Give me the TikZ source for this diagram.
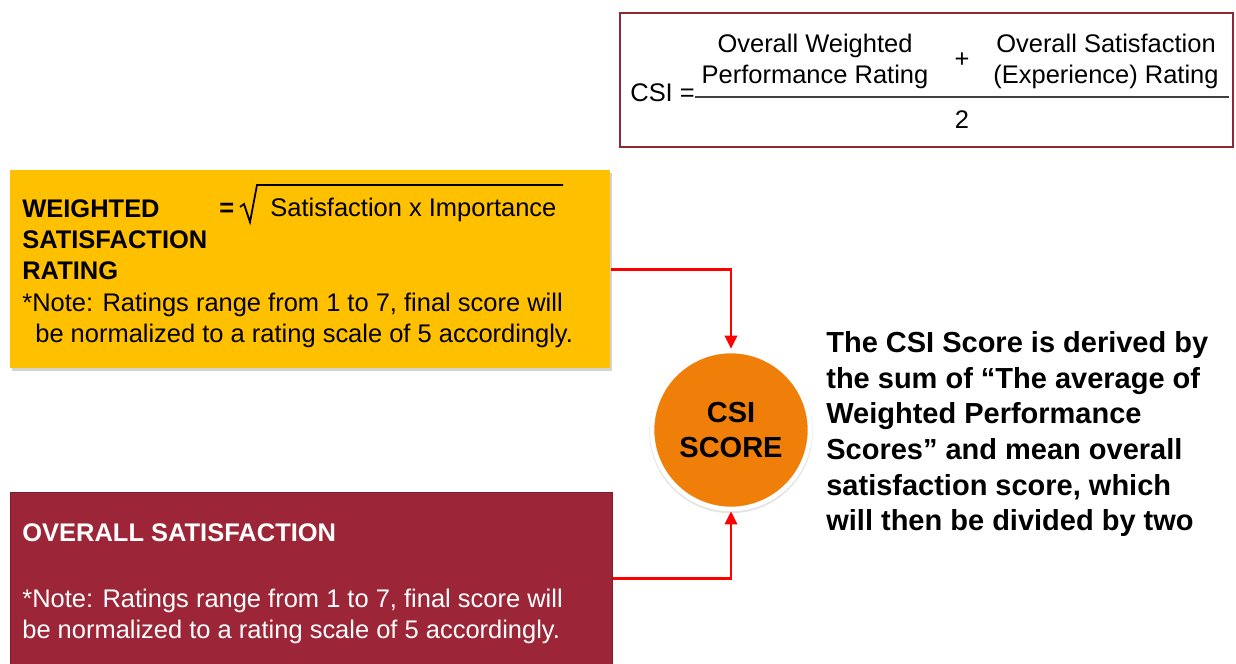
\documentclass[tikz,border=0pt]{standalone}
\usepackage{fontspec}
\setmainfont{Liberation Sans}
\usetikzlibrary{positioning, arrows.meta, shadows}

\definecolor{wsryellow}{HTML}{FFC000}
\definecolor{osred}{HTML}{9C2637}
\definecolor{osedge}{HTML}{7D1D2B}
\definecolor{csiorange}{HTML}{F07F0A}
\definecolor{framered}{HTML}{8A2A35}

\begin{document}
\begin{tikzpicture}[
    x=0.02cm, y=-0.02cm,
    panel/.style={anchor=north west, inner sep=0pt},
    boxtext/.style={inner sep=0pt, align=left, font=\fontsize{14.5}{17.6}\selectfont},
    boxbold/.style={boxtext, font=\bfseries\fontsize{14.5}{17.6}\selectfont},
    bigtext/.style={inner sep=0pt, align=left, font=\bfseries\fontsize{16.5}{20.3}\selectfont},
    link/.style={draw=red, line width=1.6pt, -{Triangle[length=7.5pt, width=7pt]}}
  ]
    \useasboundingbox (0,0) rectangle (1236,663);

    % CSI formula
    \node[panel, draw=framered, line width=1.2pt, minimum width=12.26cm, minimum height=2.68cm] (formula) at (619,12) {};
    \node[boxtext, anchor=base west] (csieq) at (630,101) {CSI =};
    \node[boxtext, align=center, anchor=north] (wpr) at (815,34) {Overall Weighted\\Performance Rating};
    \node[boxtext, align=center, anchor=north] (osr) at (1106,34) {Overall Satisfaction\\(Experience) Rating};
    \node[boxtext] (plus) at (962,60) {+};
    \node[boxtext] (two) at (962,120) {2};
    \draw[line width=0.7pt, black!75] (csieq.base east |- 0,97) -- (1229,97);

    % weighted satisfaction rating
    \node[panel, fill=wsryellow, minimum width=12cm, minimum height=3.96cm,
          drop shadow={shadow xshift=1pt, shadow yshift=-1.5pt, opacity=0.35}] (wsr) at (10,170) {};
    \node[boxbold, anchor=north west] (wsrtitle) at (22,199.5) {WEIGHTED\\SATISFACTION\\RATING};
    \node[boxbold, anchor=base west] (eq) at (219,216) {=};
    \node[boxtext, anchor=base west] (radicand) at (270,216) {Satisfaction x Importance};
    \draw[line width=1pt] (240,207) -- (244,204) -- (250,222) -- (257,185) -- (563,185);
    \node[boxtext, anchor=north west] (wsrnote) at (22,293)
        {*Note: Ratings range from 1 to 7, final score will\\\hspace*{0.26cm}be normalized to a rating scale of 5 accordingly.};

    % overall satisfaction
    \node[panel, fill=osred, draw=osedge, line width=0.8pt, minimum width=12.04cm, minimum height=3.44cm] (os) at (10,492) {};
    \node[boxbold, anchor=north west, text=white] (ostitle) at (22,523.5) {OVERALL SATISFACTION};
    \node[boxtext, anchor=north west, text=white] (osnote) at (22,588.5)
        {*Note: Ratings range from 1 to 7, final score will\\be normalized to a rating scale of 5 accordingly.};

    % score
    \node[circle, fill=csiorange, draw=white, line width=2.6pt, minimum size=3.16cm,
          drop shadow={shadow xshift=0pt, shadow yshift=-0.8pt, shadow scale=1.035, opacity=0.22},
          align=center, font=\bfseries\fontsize{16.5}{19.4}\selectfont] (csi) at (731,430) {CSI\\SCORE};

    \draw[link] (wsr.east) -| (csi.north);
    \draw[link] (os.east) -| (csi.south);

    \node[bigtext, anchor=north west] (summary) at (826,331)
        {The CSI Score is derived by\\the sum of ``The average of\\Weighted Performance\\Scores'' and mean overall\\satisfaction score, which\\will then be divided by two};
\end{tikzpicture}
\end{document}
